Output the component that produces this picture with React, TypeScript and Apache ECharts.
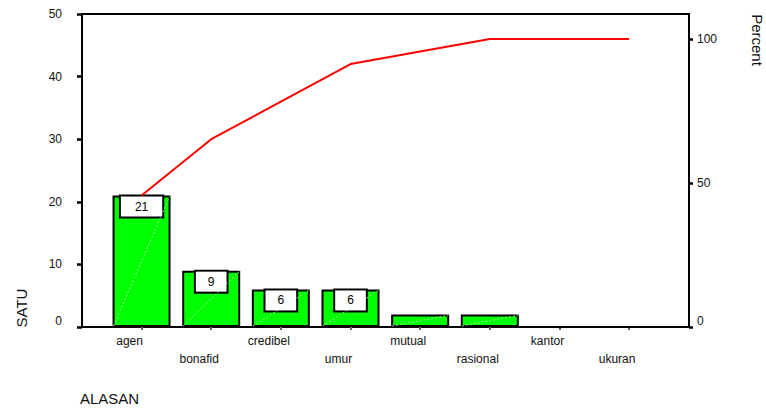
import React, { useEffect, useRef } from "react";
import * as echarts from "echarts";

// Reasons (ALASAN) and their counts (SATU), sorted descending
const categories = ["agen", "bonafid", "credibel", "umur", "mutual", "rasional", "kantor", "ukuran"];
const counts = [21, 9, 6, 6, 2, 2, 0, 0];
const leftTicks = [0, 10, 20, 30, 40, 50];
const rightTicks = [0, 50, 100];

const FONT = "'Liberation Sans', Arial, Helvetica, sans-serif";

export default function App() {
  const ref = useRef<HTMLDivElement>(null);

  useEffect(() => {
    if (!ref.current) return;
    const chart = echarts.init(ref.current, null, { renderer: "svg" });

    const total = counts.reduce((a, b) => a + b, 0);
    let run = 0;
    const cumPct = counts.map((c) => {
      run += c;
      return (run / total) * 100;
    });
    const leftMax = 50;
    // the percent axis reaches 100 exactly where the left axis reaches the total count
    const rightMax = (leftMax / total) * 100;
    const idx = categories.map((_, i) => i);

    const barData = counts.map((v, i) => ({
      value: [i, v],
      label: {
        show: v >= 4,
        padding: [3, String(v).length > 1 ? 14 : 12],
      },
    }));

    const option: any = {
      animation: false,
      textStyle: { fontFamily: FONT },
      grid: {
        left: 82,
        right: 77,
        top: 14,
        bottom: 81,
        show: true,
        borderColor: "#000",
        borderWidth: 2,
        backgroundColor: "transparent",
      },
      xAxis: {
        type: "value",
        min: -0.855,
        max: 7.86,
        splitLine: { show: false },
        axisLine: { show: true, onZero: false, lineStyle: { color: "#000", width: 2 } },
        axisTick: {
          show: true,
          customValues: idx,
          length: 3,
          lineStyle: { color: "#666", width: 2 },
        },
        axisLabel: {
          customValues: idx,
          margin: 5,
          color: "#111",
          fontSize: 12,
          fontFamily: FONT,
          lineHeight: 18,
          formatter: (v: number) => {
            const i = Math.round(v);
            const name = categories[i] ?? "";
            return i % 2 === 1 ? "{n|}\n{n|" + name + "}" : "{n|" + name + "}";
          },
          rich: {
            n: { fontSize: 12, fontFamily: FONT, color: "#111", lineHeight: 18, padding: [0, 24, 0, 0] },
          },
        },
      },
      yAxis: [
        {
          type: "value",
          min: 0,
          max: leftMax,
          interval: 10,
          splitLine: { show: false },
          axisLine: { show: true, onZero: false, lineStyle: { color: "#000", width: 2 } },
          axisTick: { show: true, length: 5, lineStyle: { color: "#000", width: 2.5 } },
          axisLabel: {
            customValues: leftTicks,
            margin: 20,
            color: "#111",
            fontSize: 12,
            fontFamily: FONT,
            verticalAlignMinLabel: "bottom",
          },
        },
        {
          type: "value",
          min: 0,
          max: rightMax,
          position: "right",
          splitLine: { show: false },
          axisLine: { show: true, onZero: false, lineStyle: { color: "#000", width: 2 } },
          axisTick: {
            show: true,
            customValues: rightTicks,
            length: 4,
            lineStyle: { color: "#000", width: 2.5 },
          },
          axisLabel: {
            customValues: rightTicks,
            margin: 8,
            color: "#111",
            fontSize: 12,
            fontFamily: FONT,
            verticalAlignMinLabel: "bottom",
          },
        },
      ],
      series: [
        {
          type: "bar",
          data: barData,
          barWidth: 58,
          itemStyle: { color: "#00ff00", borderColor: "#000", borderWidth: 2 },
          label: {
            position: "insideTop",
            distance: 1,
            color: "#000",
            fontSize: 12,
            fontFamily: FONT,
            lineHeight: 14,
            backgroundColor: "#fff",
            borderColor: "#000",
            borderWidth: 2,
            formatter: (p: any) => String(p.value[1]),
          },
          z: 2,
        },
        {
          // faint diagonal hatch running corner to corner across each bar
          type: "custom",
          data: counts.map((v, i) => [i, v]).filter((d) => d[1] > 0),
          z: 4,
          silent: true,
          renderItem: (params: any, api: any) => {
            const i = api.value(0);
            const v = api.value(1);
            const top = api.coord([i, v]);
            const base = api.coord([i, 0]);
            const half = 28;
            return {
              type: "line",
              shape: { x1: base[0] - half, y1: base[1] - 1, x2: top[0] + half, y2: top[1] + 1 },
              style: { stroke: "rgba(190,255,190,0.85)", lineWidth: 1, lineDash: [2, 2] },
            };
          },
        },
        {
          type: "line",
          yAxisIndex: 1,
          data: cumPct.map((p, i) => [i, p]),
          showSymbol: false,
          symbol: "none",
          lineStyle: { color: "#ff0000", width: 2 },
          z: 5,
        },
      ],
      graphic: [
        {
          type: "text",
          x: 21,
          y: 308,
          rotation: Math.PI / 2,
          style: {
            text: "SATU",
            fontSize: 15,
            fontFamily: FONT,
            fill: "#111",
            align: "center",
            verticalAlign: "middle",
          },
        },
        {
          type: "text",
          x: 757,
          y: 40,
          rotation: -Math.PI / 2,
          style: {
            text: "Percent",
            fontSize: 15,
            fontFamily: FONT,
            fill: "#111",
            align: "center",
            verticalAlign: "middle",
          },
        },
        {
          type: "text",
          x: 80,
          y: 398,
          style: {
            text: "ALASAN",
            fontSize: 15,
            fontFamily: FONT,
            fill: "#111",
            align: "left",
            verticalAlign: "middle",
          },
        },
      ],
    };

    chart.setOption(option);
    return () => chart.dispose();
  }, []);

  return (
    <div
      ref={ref}
      style={{ position: "absolute", left: 0, top: 0, width: 766, height: 408, background: "#fff" }}
    />
  );
}
